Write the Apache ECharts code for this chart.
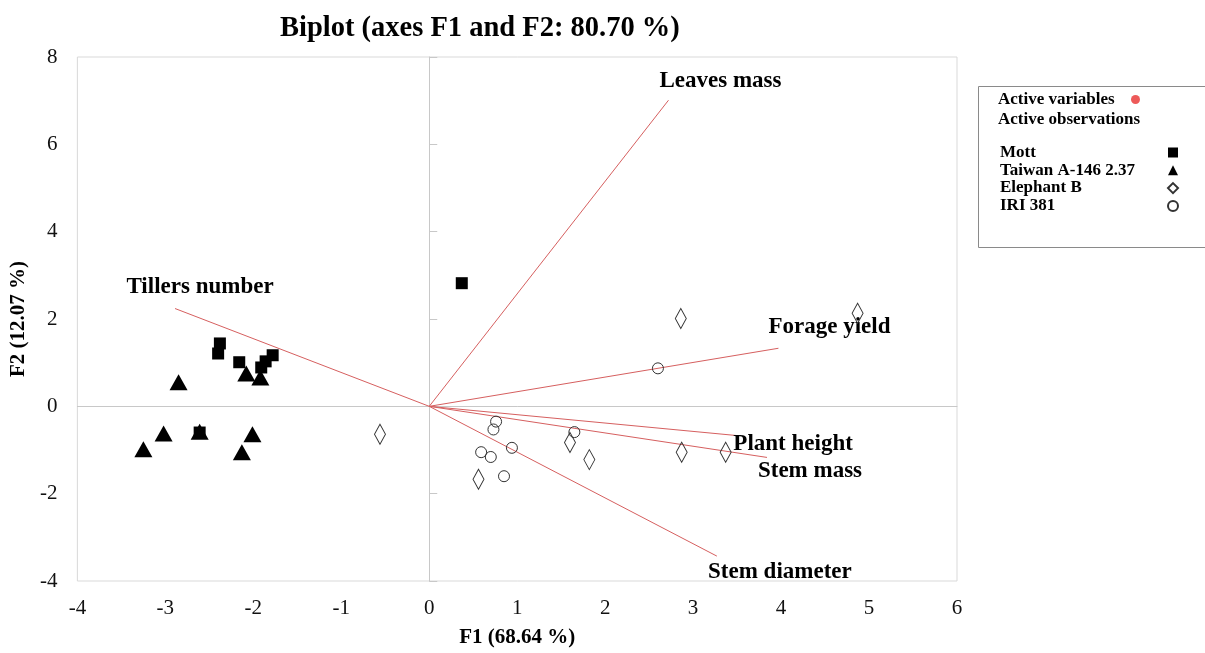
<!DOCTYPE html>
<html>
<head>
<meta charset="utf-8">
<script src="https://cdn.jsdelivr.net/npm/echarts@6/dist/echarts.min.js"></script>
<style>html,body{margin:0;padding:0;background:#fff;}#chart{width:1205px;height:653px;}</style>
</head>
<body>
<div id="chart"></div>
<script>
// ---- data ----
var varNames = ['Leaves mass', 'Tillers number', 'Forage yield', 'Plant height', 'Stem mass', 'Stem diameter'];
var varF1 = [2.72, -2.89, 3.97, 3.50, 3.84, 3.27];
var varF2 = [7.01, 2.24, 1.33, -0.67, -1.17, -3.43];

var obsGroups = ['Mott', 'Taiwan A-146 2.37', 'Elephant B', 'IRI 381'];
var mottPts = [[-2.38, 1.44], [-2.40, 1.21], [-2.16, 1.01], [-1.91, 0.89], [-1.86, 1.03], [-1.78, 1.17], [-2.61, -0.60], [0.37, 2.82]];
var taiwanPts = [[-2.85, 0.55], [-2.08, 0.75], [-1.92, 0.66], [-3.02, -0.62], [-3.25, -0.98], [-2.61, -0.58], [-2.01, -0.64], [-2.13, -1.05]];
var elephantPts = [[-0.56, -0.64], [2.86, 2.01], [1.60, -0.83], [1.82, -1.22], [0.56, -1.67], [2.87, -1.05], [3.37, -1.05], [4.87, 2.13]];
var iriPts = [[2.60, 0.87], [0.76, -0.35], [0.73, -0.53], [1.65, -0.59], [0.59, -1.05], [0.70, -1.16], [0.94, -0.95], [0.85, -1.60]];

var xTicks = [-4, 6, 1];
var yTicks = [-4, 8, 2];

var titleText = 'Biplot (axes F1 and F2: 80.70 %)';
var xName = 'F1 (68.64 %)';
var yName = 'F2 (12.07 %)';

// ---- styling (label offsets relative to arrow ends) ----
var labelOffsets = [[52, -19], [25, -21], [51, -21], [56, 8], [43, 14], [63, 16]];
var serif = "'Liberation Serif', 'Times New Roman', serif";

var chart = echarts.init(document.getElementById('chart'));

var lineData = varNames.map(function (n, i) {
  return { name: n, coords: [[0, 0], [varF1[i], varF2[i]]] };
});
var endData = varNames.map(function (n, i) {
  return {
    name: n,
    value: [varF1[i], varF2[i]],
    label: { offset: labelOffsets[i] }
  };
});

function axisBase(t) {
  return { type: 'value', min: t[0], max: t[1], interval: t[2], splitLine: { show: false } };
}

var option = {
  backgroundColor: '#fff',
  animation: false,
  title: {
    text: titleText,
    left: 280, top: 14, padding: 0,
    textStyle: { fontFamily: serif, fontWeight: 'bold', fontSize: 28.5, color: '#000' }
  },
  grid: { left: 76, right: 248, top: 57, bottom: 72, show: true, borderColor: '#d9d9d9', borderWidth: 1, containLabel: false },
  xAxis: [
    Object.assign(axisBase(xTicks), {
      position: 'bottom',
      axisLine: { show: false, onZero: false }, axisTick: { show: false },
      axisLabel: { fontFamily: serif, fontSize: 21, color: '#111', margin: 17 },
      name: xName, nameLocation: 'middle', nameGap: 46,
      nameTextStyle: { fontFamily: serif, fontWeight: 'bold', fontSize: 21, color: '#000' }
    }),
    Object.assign(axisBase(xTicks), {
      position: 'top',
      axisLine: { show: true, onZero: true, lineStyle: { color: '#c8c8c8', width: 1 } },
      axisTick: { show: false }, axisLabel: { show: false }
    })
  ],
  yAxis: [
    Object.assign(axisBase(yTicks), {
      position: 'left',
      axisLine: { show: false, onZero: false }, axisTick: { show: false },
      axisLabel: { fontFamily: serif, fontSize: 21, color: '#111', margin: 20 },
      name: yName, nameLocation: 'middle', nameGap: 44,
      nameTextStyle: { fontFamily: serif, fontWeight: 'bold', fontSize: 21, color: '#000' }
    }),
    Object.assign(axisBase(yTicks), {
      position: 'right',
      axisLine: { show: true, onZero: true, lineStyle: { color: '#c8c8c8', width: 1 } },
      axisTick: { show: true, inside: false, length: 8, lineStyle: { color: '#c8c8c8' } },
      axisLabel: { show: false }
    })
  ],
  legend: [
    {
      data: [{ name: 'Active variables', icon: 'circle', itemStyle: { color: '#e8312f', borderWidth: 0 } }],
      left: 998, top: 91, padding: 0, align: 'right', selectedMode: false,
      itemWidth: 9, itemHeight: 9,
      formatter: function (n) { return '{n|' + n + '}'; },
      textStyle: { rich: { n: { width: 128, align: 'left', fontFamily: serif, fontWeight: 'bold', fontSize: 17, color: '#000' } } }
    },
    {
      data: obsGroups, orient: 'vertical',
      left: 1000, top: 144, padding: 0, align: 'right', selectedMode: false,
      itemWidth: 10, itemHeight: 10, itemGap: 0.8,
      formatter: function (n) { return '{n|' + n + '}'; },
      textStyle: { rich: { n: { width: 163, align: 'left', lineHeight: 17.7, fontFamily: serif, fontWeight: 'bold', fontSize: 17, color: '#000' } } }
    }
  ],
  graphic: [
    { type: 'rect', left: 976, top: 84, shape: { width: 240, height: 161 }, style: { fill: 'none', stroke: '#8a8a8a', lineWidth: 1 }, z: 0 },
    { type: 'text', left: 998, top: 111, style: { text: 'Active observations', font: 'bold 17px ' + serif, fill: '#000' } }
  ],
  series: [
    {
      name: 'vectors', type: 'lines', coordinateSystem: 'cartesian2d',
      xAxisIndex: 0, yAxisIndex: 0, silent: true,
      lineStyle: { color: '#d65f5f', width: 1, opacity: 1 },
      data: lineData, z: 1
    },
    {
      name: 'Active variables', type: 'scatter', symbolSize: 0,
      data: endData, silent: true, z: 3,
      itemStyle: { color: '#e8312f' },
      label: { show: true, position: 'inside', formatter: '{b}', fontFamily: serif, fontWeight: 'bold', fontSize: 23, color: '#000', textBorderWidth: 0, opacity: 1 }
    },
    {
      name: 'Mott', type: 'scatter', symbol: 'rect', symbolSize: 12, data: mottPts, z: 4,
      itemStyle: { color: '#000', opacity: 1 }
    },
    {
      name: 'Taiwan A-146 2.37', type: 'scatter', symbol: 'triangle', symbolSize: [18, 16], data: taiwanPts, z: 4,
      itemStyle: { color: '#000', opacity: 1 }
    },
    {
      name: 'Elephant B', type: 'scatter', symbol: 'diamond', symbolSize: [11, 20], data: elephantPts, z: 4,
      itemStyle: { color: 'rgba(255,255,255,0)', borderColor: '#333', borderWidth: 1, opacity: 1 }
    },
    {
      name: 'IRI 381', type: 'scatter', symbol: 'circle', symbolSize: 11, data: iriPts, z: 4,
      itemStyle: { color: 'rgba(255,255,255,0)', borderColor: '#333', borderWidth: 1, opacity: 1 }
    }
  ]
};
chart.setOption(option);
</script>
</body>
</html>
